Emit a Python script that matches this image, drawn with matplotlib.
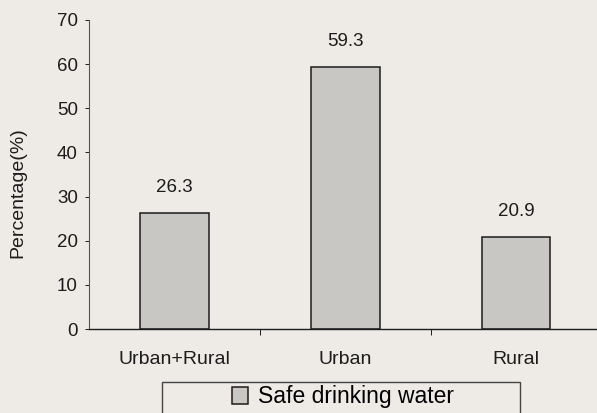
import numpy as np
import matplotlib.pyplot as plt
from matplotlib.patches import Rectangle

plt.rcParams['font.family'] = ['Liberation Sans', 'DejaVu Sans']

categories = ['Urban+Rural', 'Urban', 'Rural']
safe_water = [26.3, 59.3, 20.9]
series_name = 'Safe drinking water'

paper = '#eeebe6'
bar_grey = '#c9c7c3'
ink = '#1c1c1c'

fig = plt.figure(figsize=(5.97, 4.13), dpi=100, facecolor=paper)
ax = fig.add_axes([0.149, 0.203, 0.859, 0.749])
ax.set_facecolor(paper)

x = np.arange(len(categories))
bars = ax.bar(x, safe_water, width=0.4, color=bar_grey, edgecolor=ink, linewidth=1.1,
              label=series_name)

for b, v in zip(bars, safe_water):
    ax.annotate(f'{v:.1f}', (b.get_x() + b.get_width() / 2, v),
                xytext=(0, 12), textcoords='offset points',
                ha='center', va='bottom', fontsize=13.5, color=ink)

ax.set_xlim(-0.5, 2.5)
ax.set_ylim(0, 70)
ax.set_yticks(range(0, 71, 10))
ax.tick_params(axis='y', labelsize=13.5, colors=ink, length=3, width=0.7, pad=5)

# category names sit between boundary ticks
ax.set_xticks(x)
ax.set_xticklabels(categories, fontsize=14, color=ink)
ax.tick_params(axis='x', length=0, pad=16)
ax.set_xticks([0.5, 1.5], minor=True)
ax.tick_params(axis='x', which='minor', length=4, width=0.7, color=ink)

for side in ['top', 'right']:
    ax.spines[side].set_visible(False)
ax.spines['left'].set_color('#555555')
ax.spines['left'].set_linewidth(0.8)
ax.spines['bottom'].set_color(ink)
ax.spines['bottom'].set_linewidth(1.0)

ax.set_ylabel('Percentage(%)', fontsize=14, color=ink)
ax.yaxis.set_label_coords(-0.122, 0.44)

# wide legend frame under the axis
fig.patches.append(Rectangle((162 / 597, -0.01), 358 / 597, 35 / 413,
                             transform=fig.transFigure, facecolor=paper,
                             edgecolor='#444444', linewidth=1.0))
fig.legend(handles=[bars], labels=[series_name], loc='center',
           bbox_to_anchor=(343 / 597, 1 - 397 / 413), frameon=False,
           fontsize=16.5, handlelength=0.7, handleheight=0.7, handletextpad=0.4)

fig.savefig('out.png', dpi=100, facecolor=paper)
